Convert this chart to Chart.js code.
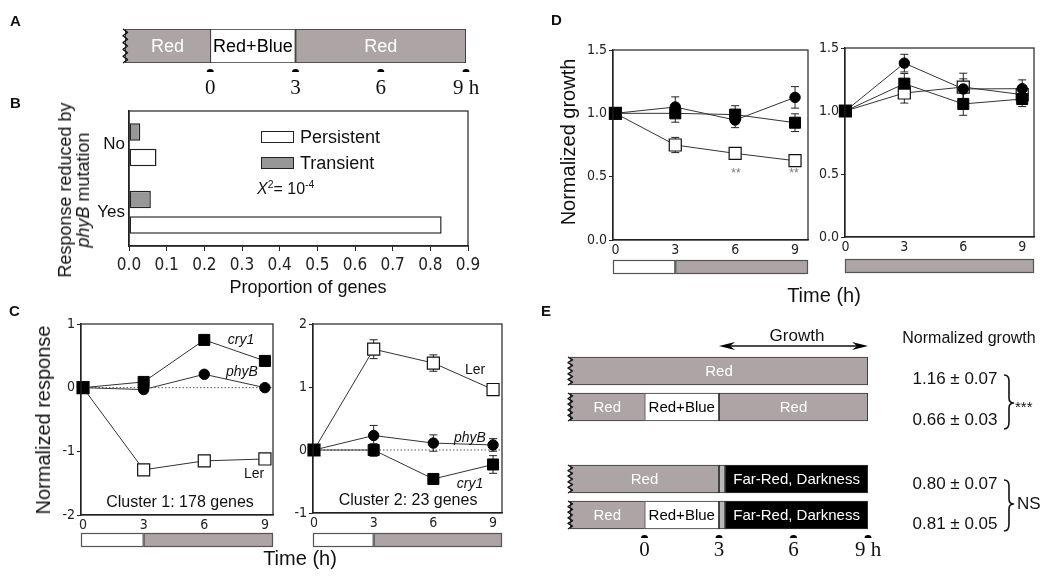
<!DOCTYPE html>
<html>
<head>
<meta charset="utf-8">
<title>Blue light, phyB and growth</title>
<script src="https://cdn.jsdelivr.net/npm/chart.js@4.4.1/dist/chart.umd.min.js"></script>
<style>
  html, body { margin: 0; padding: 0; background: #fff; }
  body { position: relative; width: 1050px; height: 580px; overflow: hidden;
         font-family: 'Liberation Sans', Arial, sans-serif; color: #111; }
  canvas { position: absolute; }
  .t { position: absolute; white-space: nowrap; line-height: 1; transform: translate(-50%, -50%); }
  .l { position: absolute; white-space: nowrap; line-height: 1; transform: translateY(-50%); }
  .rot { transform: translate(-50%, -50%) rotate(-90deg); text-align: center; }
  .panel { position: absolute; font-size: 15px; font-weight: bold; line-height: 1; }
  .box { position: absolute; border: 1.5px solid #222; box-sizing: border-box; }
  .star { z-index: 5; font-size: 12px; color: #777; }
  sup { font-size: 65%; position: relative; top: -0.55em; vertical-align: baseline; }
</style>
</head>
<body>

<canvas id="chartA" width="520" height="100" style="left:0px;top:0px"></canvas>
<canvas id="chartB" width="520" height="205" style="left:0px;top:95px"></canvas>
<canvas id="chartC1" width="290" height="280" style="left:0px;top:300px"></canvas>
<canvas id="chartC2" width="245" height="280" style="left:285px;top:300px"></canvas>
<canvas id="chartD1" width="290" height="300" style="left:530px;top:0px"></canvas>
<canvas id="chartD2" width="240" height="300" style="left:810px;top:0px"></canvas>
<canvas id="chartE" width="520" height="280" style="left:530px;top:300px"></canvas>

<!-- panel letters -->
<div class="panel" style="left:10px;top:13px">A</div>
<div class="panel" style="left:10px;top:95px">B</div>
<div class="panel" style="left:9px;top:303px">C</div>
<div class="panel" style="left:551px;top:12px">D</div>
<div class="panel" style="left:541px;top:303px">E</div>

<!-- B -->
<div class="t rot" style="left:74px;top:190px;font-size:18px;line-height:18px">Response reduced by<br><i>phyB</i> mutation</div>
<div class="t" style="left:308px;top:287px;font-size:18px">Proportion of genes</div>
<div class="box" style="left:261px;top:131px;width:33px;height:12px;background:#fff"></div>
<div class="l" style="left:300px;top:137px;font-size:18px">Persistent</div>
<div class="box" style="left:261px;top:157px;width:33px;height:12px;background:#979797"></div>
<div class="l" style="left:300px;top:163px;font-size:18px">Transient</div>
<div class="l" style="left:257px;top:189px;font-size:16px"><i>X</i><sup>2</sup>= 10<sup>-4</sup></div>

<!-- C -->
<div class="t rot" style="left:43px;top:420px;font-size:20px">Normalized response</div>
<div class="t" style="left:241px;top:339px;font-size:14px"><i>cry1</i></div>
<div class="t" style="left:242px;top:371px;font-size:14px"><i>phyB</i></div>
<div class="t" style="left:254px;top:473px;font-size:14px">Ler</div>
<div class="t" style="left:180px;top:502px;font-size:16px">Cluster 1: 178 genes</div>
<div class="t" style="left:475px;top:369px;font-size:14px">Ler</div>
<div class="t" style="left:470px;top:437px;font-size:14px"><i>phyB</i></div>
<div class="t" style="left:470px;top:483px;font-size:14px"><i>cry1</i></div>
<div class="t" style="left:408px;top:500px;font-size:16px">Cluster 2: 23 genes</div>
<div class="t" style="left:300px;top:558px;font-size:20px">Time (h)</div>

<!-- D -->
<div class="t rot" style="left:568px;top:142px;font-size:20px">Normalized growth</div>
<div class="t star" style="left:736px;top:173px">**</div>
<div class="t star" style="left:794px;top:173px">**</div>
<div class="t" style="left:824px;top:295px;font-size:20px">Time (h)</div>

<!-- E -->
<div class="t" style="left:797px;top:335px;font-size:17px">Growth</div>
<div class="t" style="left:969px;top:338px;font-size:16px">Normalized growth</div>
<div class="t" style="left:955px;top:378px;font-size:17px">1.16 ± 0.07</div>
<div class="t" style="left:955px;top:419px;font-size:17px">0.66 ± 0.03</div>
<div class="t" style="left:955px;top:483px;font-size:17px">0.80 ± 0.07</div>
<div class="t" style="left:955px;top:523px;font-size:17px">0.81 ± 0.05</div>
<svg style="position:absolute;left:1003px;top:374px" width="14" height="56">
  <path d="M1,1 Q6,1 6,7 L6,24 Q6,29 11,29 Q6,29 6,34 L6,48 Q6,55 1,55" fill="none" stroke="#111" stroke-width="1.6"/>
</svg>
<svg style="position:absolute;left:1003px;top:479px" width="14" height="53">
  <path d="M1,1 Q6,1 6,7 L6,20 Q6,25 11,25 Q6,25 6,30 L6,45 Q6,52 1,52" fill="none" stroke="#111" stroke-width="1.6"/>
</svg>
<div class="l" style="left:1015px;top:406px;font-size:15px">***</div>
<div class="l" style="left:1017px;top:503px;font-size:17px">NS</div>

<script>
// ---------- data ----------
var hours = [0, 3, 6, 9];

// A: light schedule (h relative to blue light onset)
var schedLabels = ['Red', 'Red+Blue', 'Red'];
var schedStart = [-3, 0, 3];
var schedEnd = [0, 3, 9];

// B
var bCategories = ['No', 'Yes'];
var bTransient = [0.03, 0.058];
var bPersistent = [0.073, 0.83];

// C, cluster 1
var c1Cry1 = [0, 0.09, 0.75, 0.42];
var c1PhyB = [0, -0.03, 0.21, 0];
var c1Ler = [0, -1.29, -1.15, -1.12];
// C, cluster 2
var c2Cry1 = [0, 0, -0.46, -0.23];
var c2Cry1Err = [0, 0.1, 0.05, 0.14];
var c2PhyB = [0, 0.23, 0.11, 0.08];
var c2PhyBErr = [0, 0.16, 0.13, 0.1];
var c2Ler = [0, 1.6, 1.38, 0.96];
var c2LerErr = [0, 0.15, 0.13, 0.04];

// D, blue pulse
var d1Square = [1, 1.0, 0.99, 0.926];
var d1SquareErr = [0, 0.07, 0.07, 0.07];
var d1Circle = [1, 1.05, 0.947, 1.126];
var d1CircleErr = [0, 0.08, 0.06, 0.085];
var d1Open = [1, 0.75, 0.684, 0.626];
var d1OpenErr = [0, 0.06, 0.03, 0.03];
// D, red only
var d2Square = [1, 1.217, 1.056, 1.095];
var d2SquareErr = [0, 0.08, 0.09, 0.06];
var d2Circle = [1, 1.38, 1.175, 1.177];
var d2CircleErr = [0, 0.07, 0.08, 0.07];
var d2Open = [1, 1.143, 1.19, 1.13];
var d2OpenErr = [0, 0.08, 0.11, 0.06];

// light under the time axes: [from, to, kind]
var lightBlueThenRed = [[0, 3, 'white'], [3, 9, 'red']];
var lightRedOnly = [[0, 9, 'red']];

// E: four treatments (blank row = gap between the pairs)
var eRows = ['R', 'R-RB-R', '', 'R-FR', 'R-RB-FR'];
var eRedBefore = [[-3, 9], [-3, 0], null, [-3, 3], [-3, 0]];
var eBlue = [null, [0, 3], null, null, [0, 3]];
var eRedAfter = [null, [3, 9], null, null, null];
var ePulse = [null, null, null, [3, 3.25], [3, 3.25]];
var eDark = [null, null, null, [3.25, 9], [3.25, 9]];

// ---------- styles ----------
var SANS = "'Liberation Sans', Arial, sans-serif";
var NARROW = "'Liberation Sans Narrow', 'Arial Narrow', 'DejaVu Sans Condensed', sans-serif";
var SERIF = "'Liberation Serif', 'Times New Roman', serif";
var GREY = '#ada5a5';
var INK = '#222';

var OPEN = { pointStyle: 'rect', pointRadius: 8.5, pointBackgroundColor: '#fff', pointBorderColor: '#111', pointBorderWidth: 1.2 };
var SQUARE = { pointStyle: 'rect', pointRadius: 7.8, pointBackgroundColor: '#000', pointBorderColor: '#000', pointBorderWidth: 1 };
var CIRCLE = { pointStyle: 'circle', pointRadius: 5.2, pointBackgroundColor: '#000', pointBorderColor: '#000', pointBorderWidth: 1 };

Chart.defaults.font.family = SANS;

// ---------- plugins ----------
function frame() {
  return { id: 'frame', afterDatasetsDraw: function (chart) {
    var a = chart.chartArea, ctx = chart.ctx;
    ctx.save();
    ctx.strokeStyle = INK; ctx.lineWidth = 1.2;
    ctx.strokeRect(a.left, a.top, a.right - a.left, a.bottom - a.top);
    ctx.restore();
  }};
}

function errorBars() {
  return { id: 'errorBars', beforeDatasetsDraw: function (chart) {
    var ctx = chart.ctx, ys = chart.scales.y;
    ctx.save();
    ctx.strokeStyle = INK; ctx.lineWidth = 1;
    chart.data.datasets.forEach(function (ds, i) {
      if (!ds.errors) return;
      chart.getDatasetMeta(i).data.forEach(function (pt, j) {
        var e = ds.errors[j];
        if (!e) return;
        var v = ds.data[j].y;
        var y1 = ys.getPixelForValue(v + e), y2 = ys.getPixelForValue(v - e);
        ctx.beginPath();
        ctx.moveTo(pt.x, y1); ctx.lineTo(pt.x, y2);
        ctx.moveTo(pt.x - 4, y1); ctx.lineTo(pt.x + 4, y1);
        ctx.moveTo(pt.x - 4, y2); ctx.lineTo(pt.x + 4, y2);
        ctx.stroke();
      });
    });
    ctx.restore();
  }};
}

function zeroLine() {
  return { id: 'zeroLine', beforeDatasetsDraw: function (chart) {
    var a = chart.chartArea, ctx = chart.ctx;
    var y = chart.scales.y.getPixelForValue(0);
    ctx.save();
    ctx.strokeStyle = '#555'; ctx.lineWidth = 1; ctx.setLineDash([1.5, 2]);
    ctx.beginPath(); ctx.moveTo(a.left, y); ctx.lineTo(a.right, y); ctx.stroke();
    ctx.restore();
  }};
}

function timeBar(segs, gap) {
  return { id: 'timeBar', afterDraw: function (chart) {
    var ctx = chart.ctx, a = chart.chartArea, xs = chart.scales.x;
    var top = a.bottom + gap, h = 14;
    ctx.save();
    segs.forEach(function (s, k) {
      var x0 = k === 0 ? a.left : xs.getPixelForValue(s[0]);
      var x1 = k === segs.length - 1 ? a.right : xs.getPixelForValue(s[1]);
      ctx.fillStyle = s[2] === 'white' ? '#fff' : GREY;
      ctx.fillRect(x0, top, x1 - x0, h);
      ctx.strokeStyle = '#555'; ctx.lineWidth = 1.2;
      ctx.strokeRect(x0 + 0.5, top + 0.5, x1 - x0 - 1, h - 1);
    });
    ctx.restore();
  }};
}

// text inside bars, wavy left edge, sampling marks, growth arrow
function scheduleDecor(cfg) {
  return { id: 'scheduleDecor', afterDatasetsDraw: function (chart) {
    var ctx = chart.ctx, a = chart.chartArea, xs = chart.scales.x;
    ctx.save();
    ctx.textAlign = 'center'; ctx.textBaseline = 'middle';
    ctx.font = cfg.font;
    chart.data.datasets.forEach(function (ds, i) {
      if (!ds.text) return;
      chart.getDatasetMeta(i).data.forEach(function (el, j) {
        if (!ds.data[j]) return;
        ctx.fillStyle = ds.textColor;
        ctx.fillText(ds.text, (el.x + el.base) / 2, el.y + 1);
      });
    });

    var lastBottom = 0;
    chart.getDatasetMeta(0).data.forEach(function (el, j) {
      if (!chart.data.datasets[0].data[j]) return;
      var top = el.y - el.height / 2, bot = el.y + el.height / 2;
      lastBottom = Math.max(lastBottom, bot);
      var x = Math.min(el.x, el.base);
      var n = 10, step = (bot - top) / n;
      ctx.strokeStyle = '#111'; ctx.lineWidth = 1.4; ctx.lineJoin = 'round';
      ctx.beginPath();
      for (var k = 0; k <= n; k++) {
        var px = x + (k % 2 ? 2.5 : -2), py = top + k * step;
        if (k === 0) ctx.moveTo(px, py); else ctx.lineTo(px, py);
      }
      ctx.stroke();
    });

    ctx.fillStyle = '#000';
    hours.forEach(function (h) {
      var x = xs.getPixelForValue(h), y = lastBottom + cfg.markGap;
      ctx.beginPath();
      ctx.ellipse(x, y, 3.5, 3, 0, Math.PI, 2 * Math.PI);
      ctx.closePath(); ctx.fill();
    });

    if (cfg.arrow) {
      var x0 = xs.getPixelForValue(cfg.arrow[0]), x1 = xs.getPixelForValue(cfg.arrow[1]);
      var y = a.top - 7;
      ctx.strokeStyle = '#111'; ctx.lineWidth = 1.3;
      ctx.beginPath(); ctx.moveTo(x0 + 4, y); ctx.lineTo(x1 - 4, y); ctx.stroke();
      [[x0, 1], [x1, -1]].forEach(function (p) {
        ctx.beginPath();
        ctx.moveTo(p[0], y);
        ctx.lineTo(p[0] + p[1] * 16, y - 4);
        ctx.lineTo(p[0] + p[1] * 11, y);
        ctx.lineTo(p[0] + p[1] * 16, y + 4);
        ctx.closePath(); ctx.fill();
      });
    }
    ctx.restore();
  }};
}

// ---------- helpers ----------
function pts(values) {
  return hours.map(function (h, i) { return { x: h, y: values[i] }; });
}

function series(values, errors, marker) {
  var ds = { data: pts(values), errors: errors, borderColor: '#333', borderWidth: 1,
             fill: false, tension: 0, clip: false };
  Object.keys(marker).forEach(function (k) { ds[k] = marker[k]; });
  return ds;
}

function timeAxisTicks(s) {
  s.ticks = hours.map(function (v) { return { value: v }; });
}

function responseChart(id, datasets, opt) {
  var plugins = [frame(), errorBars(), timeBar(opt.light, opt.gap)];
  if (opt.zero) plugins.push(zeroLine());
  return new Chart(document.getElementById(id), {
    type: 'line',
    data: { datasets: datasets },
    options: {
      responsive: false, animation: false, events: [],
      layout: { padding: { left: 0, right: opt.right, top: opt.top, bottom: 0 } },
      plugins: { legend: { display: false }, tooltip: { enabled: false } },
      scales: {
        x: {
          type: 'linear', min: opt.xMin, max: opt.xMax,
          afterBuildTicks: timeAxisTicks,
          afterFit: function (s) { s.height = opt.xh; },
          ticks: { font: { family: NARROW, size: 14 }, color: INK, padding: 2, maxRotation: 0, autoSkip: false },
          grid: { display: false, drawTicks: false },
          border: { color: INK, width: 1.2 }
        },
        y: {
          min: opt.yMin, max: opt.yMax,
          afterFit: function (s) { s.width = opt.left; },
          ticks: { stepSize: opt.step, callback: opt.fmt, font: { family: NARROW, size: 14 }, color: INK, padding: 2 },
          grid: { drawOnChartArea: false, tickLength: 4, color: INK },
          border: { color: INK, width: 1.2 }
        }
      }
    },
    plugins: plugins
  });
}

// ---------- A ----------
new Chart(document.getElementById('chartA'), {
  type: 'bar',
  data: {
    labels: ['schedule'],
    datasets: schedLabels.map(function (lab, i) {
      return {
        label: lab, text: lab, textColor: lab === 'Red' ? '#fff' : '#000',
        data: [[schedStart[i], schedEnd[i]]],
        backgroundColor: lab === 'Red' ? GREY : '#fff',
        borderColor: '#333', borderWidth: 1.2, borderSkipped: i === 0 ? 'start' : false,
        grouped: false, barPercentage: 1, categoryPercentage: 1
      };
    })
  },
  options: {
    indexAxis: 'y', responsive: false, animation: false, events: [],
    layout: { padding: { left: 125, right: 54, top: 29, bottom: 0 } },
    plugins: { legend: { display: false }, tooltip: { enabled: false } },
    scales: {
      y: { display: false },
      x: {
        type: 'linear', min: -3, max: 9,
        afterBuildTicks: timeAxisTicks,
        afterFit: function (s) { s.height = 37; },
        ticks: { font: { family: SERIF, size: 21 }, color: '#111', padding: 13, maxRotation: 0,
                 callback: function (v) { return v === 9 ? '9 h' : String(v); } },
        grid: { display: false, drawTicks: false },
        border: { display: false }
      }
    }
  },
  plugins: [scheduleDecor({ font: '18px ' + SANS, markGap: 9 })]
});

// ---------- B ----------
new Chart(document.getElementById('chartB'), {
  type: 'bar',
  data: {
    labels: bCategories,
    datasets: [
      { label: 'Transient', data: bTransient, backgroundColor: '#979797', borderColor: INK, borderWidth: 1.5,
        borderSkipped: false, categoryPercentage: 0.755, barPercentage: 0.69 },
      { label: 'Persistent', data: bPersistent, backgroundColor: '#fff', borderColor: INK, borderWidth: 1.5,
        borderSkipped: false, categoryPercentage: 0.755, barPercentage: 0.69 }
    ]
  },
  options: {
    indexAxis: 'y', responsive: false, animation: false, events: [],
    layout: { padding: { left: 0, right: 52, top: 16, bottom: 0 } },
    plugins: { legend: { display: false }, tooltip: { enabled: false } },
    scales: {
      x: {
        min: 0, max: 0.9,
        afterFit: function (s) { s.height = 54; },
        ticks: { stepSize: 0.1, callback: function (v) { return v.toFixed(1); },
                 font: { family: NARROW, size: 17 }, color: INK, padding: 4 },
        grid: { drawOnChartArea: false, tickLength: 5, color: INK },
        border: { color: INK, width: 1.5 }
      },
      y: {
        afterFit: function (s) { s.width = 129; },
        ticks: { font: { family: SANS, size: 17 }, color: '#111', padding: 4 },
        grid: { display: false, drawTicks: false },
        border: { color: INK, width: 1.5 }
      }
    }
  },
  plugins: [frame()]
});

// ---------- C ----------
responseChart('chartC1', [
  series(c1Cry1, null, SQUARE),
  series(c1PhyB, null, CIRCLE),
  series(c1Ler, null, OPEN)
], { left: 81, right: 17, top: 24, xh: 65, xMin: -0.1, xMax: 9.4, yMin: -2, yMax: 1, step: 1,
     fmt: function (v) { return String(v); }, light: lightBlueThenRed, gap: 18, zero: true });

responseChart('chartC2', [
  series(c2Cry1, c2Cry1Err, SQUARE),
  series(c2PhyB, c2PhyBErr, CIRCLE),
  series(c2Ler, c2LerErr, OPEN)
], { left: 28, right: 28, top: 24, xh: 67, xMin: -0.05, xMax: 9.45, yMin: -1, yMax: 2, step: 1,
     fmt: function (v) { return String(v); }, light: lightBlueThenRed, gap: 20, zero: true });

// ---------- D ----------
responseChart('chartD1', [
  series(d1Square, d1SquareErr, SQUARE),
  series(d1Circle, d1CircleErr, CIRCLE),
  series(d1Open, d1OpenErr, OPEN)
], { left: 83, right: 12, top: 50, xh: 60, xMin: -0.12, xMax: 9.65, yMin: 0, yMax: 1.5, step: 0.5,
     fmt: function (v) { return v.toFixed(1); }, light: lightBlueThenRed, gap: 20 });

responseChart('chartD2', [
  series(d2Square, d2SquareErr, SQUARE),
  series(d2Circle, d2CircleErr, CIRCLE),
  series(d2Open, d2OpenErr, OPEN)
], { left: 35, right: 16, top: 48, xh: 63, xMin: -0.02, xMax: 9.6, yMin: 0, yMax: 1.5, step: 0.5,
     fmt: function (v) { return v.toFixed(1); }, light: lightRedOnly, gap: 22 });

// ---------- E ----------
var eSegments = [
  { data: eRedBefore, text: 'Red', fill: GREY, textColor: '#fff' },
  { data: eBlue, text: 'Red+Blue', fill: '#fff', textColor: '#000' },
  { data: eRedAfter, text: 'Red', fill: GREY, textColor: '#fff' },
  { data: ePulse, text: '', fill: '#b8b8b8', textColor: '#000' },
  { data: eDark, text: 'Far-Red, Darkness', fill: '#000', textColor: '#fff' }
];

new Chart(document.getElementById('chartE'), {
  type: 'bar',
  data: {
    labels: eRows,
    datasets: eSegments.map(function (s, i) {
      return {
        label: s.text || 'pulse', text: s.text, textColor: s.textColor, data: s.data,
        backgroundColor: s.fill, borderColor: '#333', borderWidth: 1.2,
        borderSkipped: i === 0 ? 'start' : false, grouped: false, barThickness: 28
      };
    })
  },
  options: {
    indexAxis: 'y', responsive: false, animation: false, events: [],
    layout: { padding: { left: 40, right: 182, top: 53, bottom: 0 } },
    plugins: { legend: { display: false }, tooltip: { enabled: false } },
    scales: {
      y: { display: false },
      x: {
        type: 'linear', min: -3, max: 9,
        afterBuildTicks: timeAxisTicks,
        afterFit: function (s) { s.height = 47; },
        ticks: { font: { family: SERIF, size: 21 }, color: '#111', padding: 5, maxRotation: 0,
                 callback: function (v) { return v === 9 ? '9 h' : String(v); } },
        grid: { display: false, drawTicks: false },
        border: { display: false }
      }
    }
  },
  plugins: [scheduleDecor({ font: '15px ' + SANS, markGap: 9, arrow: [3, 9] })]
});
</script>
</body>
</html>
